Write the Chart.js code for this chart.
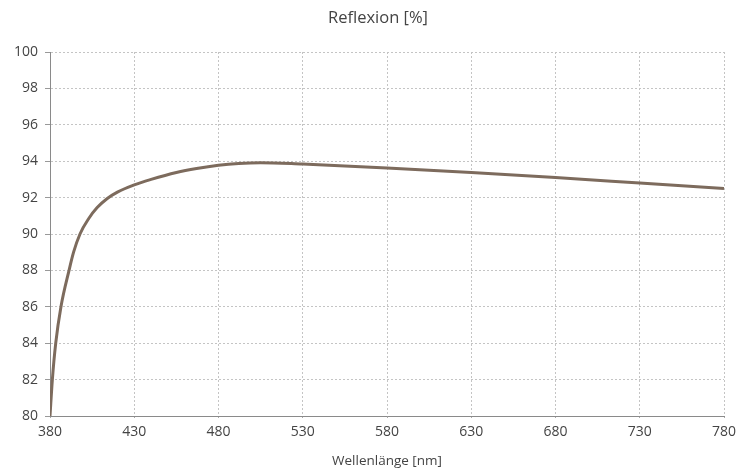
<!DOCTYPE html>
<html>
<head>
<meta charset="utf-8">
<script src="https://cdn.jsdelivr.net/npm/chart.js@4"></script>
<style>
  html, body { margin: 0; padding: 0; background: #fff; }
  #wrap { width: 750px; height: 469px; }
</style>
</head>
<body>
<div id="wrap"><canvas id="reflexChart" width="750" height="469"></canvas></div>
<script>
// Wellenlänge [nm] und Reflexion [%]
const wellenlaenge = [380, 381.4, 383.4, 386.5, 391.3, 394, 397.8, 403, 408, 414, 420, 430, 440, 455, 467, 480, 492, 505, 530, 580, 630, 680, 730, 780];
const reflexion    = [80.0, 82.0, 84.0, 86.0, 88.0, 89.0, 90.0, 90.85, 91.45, 91.95, 92.3, 92.7, 93.0, 93.38, 93.6, 93.78, 93.88, 93.92, 93.84, 93.63, 93.38, 93.1, 92.8, 92.5];
const xTicks = [380, 430, 480, 530, 580, 630, 680, 730, 780];
const yTicks = [80, 82, 84, 86, 88, 90, 92, 94, 96, 98, 100];
const titel = 'Reflexion [%]';

const punkte = wellenlaenge.map((x, i) => ({ x: x, y: reflexion[i] }));

// Titel etwas rechts von der Mitte, wie in der Vorlage
const titelPlugin = {
    id: 'titel',
    afterDraw(chart) {
        const c = chart.ctx;
        c.save();
        c.font = '16.5px "Open Sans"';
        c.fillStyle = '#444';
        c.textAlign = 'center';
        c.textBaseline = 'middle';
        c.fillText(titel, 378, 18);
        c.restore();
    }
};

const ctx = document.getElementById('reflexChart').getContext('2d');
const reflexChart = new Chart(ctx, {
    type: 'line',
    data: {
        datasets: [{
            label: 'Reflexion',
            data: punkte,
            borderColor: '#7d6b5d',
            borderWidth: 3,
            pointRadius: 0,
            cubicInterpolationMode: 'monotone',
            fill: false
        }]
    },
    options: {
        responsive: false,
        animation: false,
        layout: { padding: { left: 0, top: 52, right: 26, bottom: 0 } },
        plugins: {
            legend: { display: false },
            tooltip: { enabled: false },
            title: { display: false }
        },
        scales: {
            x: {
                type: 'linear',
                min: 380,
                max: 780,
                afterBuildTicks: s => { s.ticks = xTicks.map(v => ({ value: v })); },
                afterFit: s => { s.height = 53; },
                ticks: {
                    color: '#444',
                    font: { family: 'Open Sans', size: 14 },
                    padding: 6,
                    maxRotation: 0
                },
                grid: { color: '#c4c4c4', tickLength: 2, tickColor: '#aaa' },
                border: { color: '#8a8a8a', width: 1, dash: [2, 2] },
                title: {
                    display: true,
                    text: 'Wellenlänge [nm]',
                    color: '#444',
                    font: { family: 'Open Sans', size: 13.5 },
                    padding: { top: 0, bottom: 0 }
                }
            },
            y: {
                min: 80,
                max: 100,
                afterBuildTicks: s => { s.ticks = yTicks.map(v => ({ value: v })); },
                afterFit: s => { s.width = 50; },
                ticks: {
                    color: '#444',
                    font: { family: 'Open Sans', size: 14 },
                    padding: 7
                },
                grid: { color: '#c4c4c4', tickLength: 5, tickColor: '#999' },
                border: { color: '#8a8a8a', width: 1, dash: [2, 2] }
            }
        }
    },
    plugins: [titelPlugin]
});
</script>
</body>
</html>
